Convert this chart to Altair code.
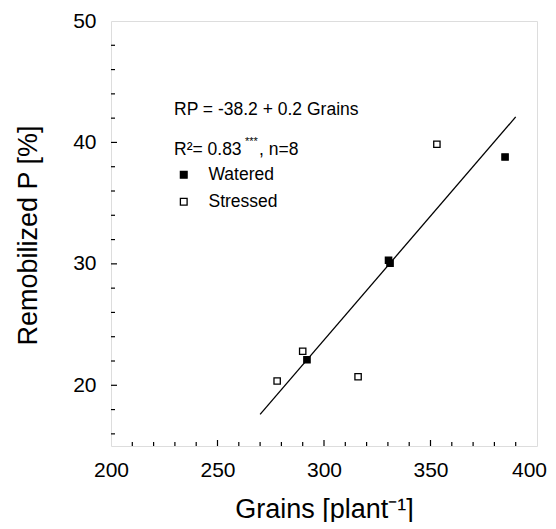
import altair as alt
import pandas as pd

# ---- data ----
watered_x = [292, 330.3, 331.0, 385]
watered_y = [22.1, 30.3, 30.05, 38.8]
stressed_x = [278, 290, 316, 353]
stressed_y = [20.35, 22.8, 20.7, 39.85]
fit_x = [270, 390]
fit_y = [17.6, 42.1]
groups = ["Watered", "Stressed"]

x_labels = [200, 250, 300, 350, 400]
y_labels = [20, 30, 40, 50]
x_major = [250, 300, 350]
x_minor = [210, 220, 230, 240, 260, 270, 280, 290, 310, 320, 330, 340, 360, 370, 380, 390]
y_major = [20, 30, 40]
y_minor = [16, 18, 22, 24, 26, 28, 32, 34, 36, 38, 42, 44, 46, 48]

eq_text = "RP = -38.2 + 0.2 Grains"
r2_text = "R\u00b2= 0.83"
stars_text = "***"
n_text = ", n=8"

FONT = "Liberation Sans"
W, H = 426, 425

pts = pd.DataFrame({
    "x": watered_x + stressed_x,
    "y": watered_y + stressed_y,
    "group": ["Watered"] * len(watered_x) + ["Stressed"] * len(stressed_x),
})
fit = pd.DataFrame({"x": fit_x, "y": fit_y})

xs = alt.Scale(domain=[200, 400], nice=False, zero=False)
ys = alt.Scale(domain=[15, 50], nice=False, zero=False)

x_axis = alt.Axis(values=x_labels, ticks=False, tickSize=0, domain=False, grid=False,
                  labelFlush=False, labelOverlap=False,
                  labelOffset=alt.ExprRef(expr="datum.value == 400 ? -8 : 0"),
                  labelFontSize=21, labelFont=FONT, labelColor="black", labelPadding=13,
                  title="Grains [plant\u207b\u00b9]", titleFont=FONT, titleFontSize=27,
                  titleFontWeight="normal", titleColor="black",
                  titleX=213, titleY=71, titleBaseline="alphabetic", titleAlign="center")
y_axis = alt.Axis(values=y_labels, ticks=False, tickSize=0, domain=False, grid=False,
                  labelFlush=False, labelOverlap=False,
                  labelFontSize=21, labelFont=FONT, labelColor="black", labelPadding=15,
                  title="Remobilized P [%]", titleFont=FONT, titleFontSize=27,
                  titleFontWeight="normal", titleColor="black",
                  titleX=-83, titleY=214, titleAngle=270, titleAlign="center",
                  titleBaseline="middle")

X = lambda f: alt.X(f, scale=xs, axis=x_axis)
Y = lambda f: alt.Y(f, scale=ys, axis=y_axis)

points = alt.Chart(pts).mark_point(shape="square", filled=True, stroke="black",
                                   strokeWidth=1.3, opacity=1, size=40).encode(
    x=X("x:Q"),
    y=Y("y:Q"),
    fill=alt.Fill("group:N", scale=alt.Scale(domain=groups, range=["black", "white"]),
                  legend=alt.Legend(title=None, orient="none", legendX=64, legendY=145,
                                    symbolType="square", symbolSize=45,
                                    symbolStrokeColor="black", symbolStrokeWidth=1.3,
                                    labelFont=FONT, labelFontSize=17.5, labelColor="black",
                                    labelOffset=16, rowPadding=8, padding=0)),
)

line = alt.Chart(fit).mark_line(color="black", strokeWidth=1.3).encode(
    x=X("x:Q"), y=Y("y:Q"))

def yticks(vals, length):
    return alt.Chart(pd.DataFrame({"v": vals})).mark_rule(color="black", strokeWidth=1.2).encode(
        y=Y("v:Q"), x=alt.value(0), x2=alt.value(length))

def xticks(vals, length):
    return alt.Chart(pd.DataFrame({"v": vals})).mark_rule(color="black", strokeWidth=1.2).encode(
        x=X("v:Q"), y=alt.value(H), y2=alt.value(H - length))

def label(txt, px, py, size=17.5):
    return alt.Chart(pd.DataFrame({"t": [txt]})).mark_text(
        align="left", baseline="alphabetic", font=FONT, fontSize=size, color="black").encode(
        text="t:N", x=alt.value(px), y=alt.value(py))

chart = alt.layer(
    points, line,
    yticks(y_major, 6), yticks(y_minor, 4), xticks(x_major, 6), xticks(x_minor, 4),
    label(eq_text, 63, 94), label(r2_text, 63, 134), label(stars_text, 134, 124, 11),
    label(n_text, 148, 134),
).properties(
    width=W, height=H,
    padding={"left": 103, "top": 13, "right": 11, "bottom": 76},
    autosize=alt.AutoSizeParams(type="none"),
).configure_view(stroke="black", strokeWidth=1.5).configure(background="white")

chart.save("out.html", embed_options={"renderer": "svg", "actions": False})
